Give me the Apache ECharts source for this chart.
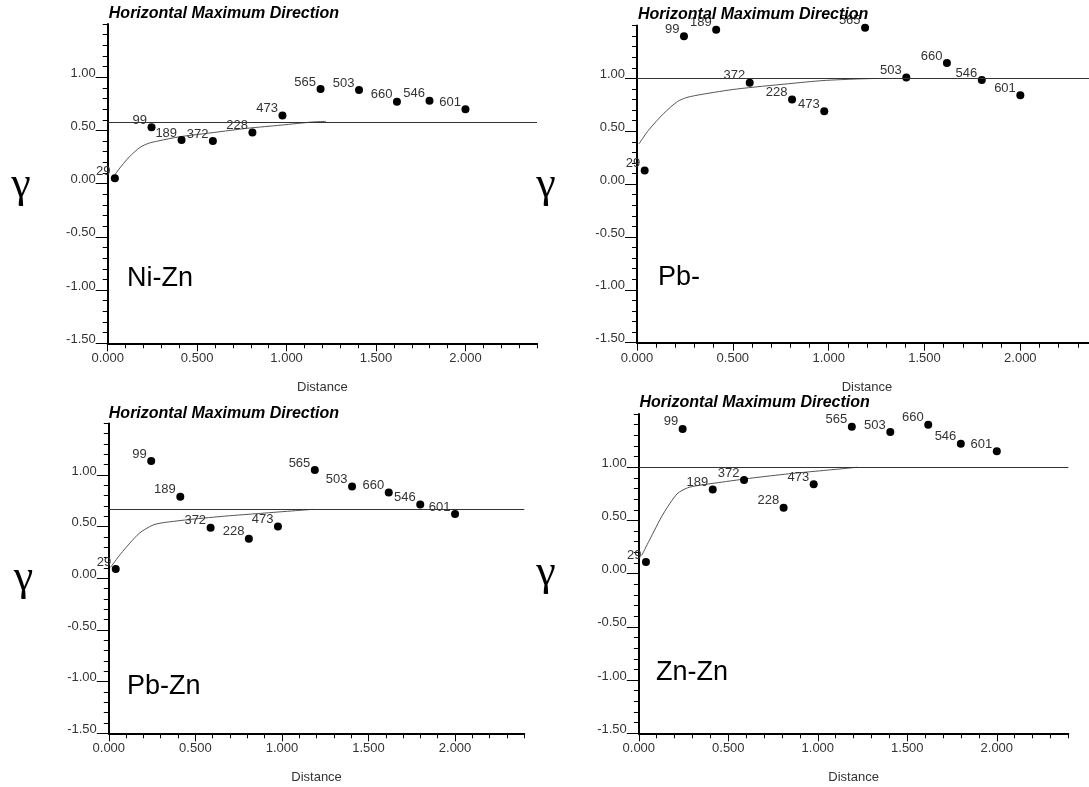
<!DOCTYPE html>
<html><head><meta charset="utf-8">
<script src="https://cdn.jsdelivr.net/npm/echarts@6/dist/echarts.min.js"></script>
<style>html,body{margin:0;padding:0;background:#fff}#c{width:1089px;height:787px}</style>
</head><body><div id="c"></div><script>
// ---- data ----
const panelNames = ['Ni-Zn', 'Pb-', 'Pb-Zn', 'Zn-Zn'];
const chartTitle = 'Horizontal Maximum Direction';
const xAxisName = 'Distance';
const gammaSymbol = 'γ';
const lagDistance = [0.040, 0.245, 0.413, 0.588, 0.809, 0.977, 1.190, 1.405, 1.617, 1.799, 2.000];
const pairCounts = ['29', '99', '189', '372', '228', '473', '565', '503', '660', '546', '601'];
const gammaNiZn = [0.05, 0.53, 0.41, 0.40, 0.48, 0.64, 0.89, 0.88, 0.77, 0.78, 0.70];
const gammaPbPb = [0.13, 1.40, 1.46, 0.96, 0.80, 0.69, 1.48, 1.01, 1.145, 0.985, 0.84];
const gammaPbZn = [0.09, 1.135, 0.79, 0.49, 0.384, 0.503, 1.048, 0.89, 0.832, 0.716, 0.623];
const gammaZnZn = [0.11, 1.36, 0.79, 0.88, 0.62, 0.84, 1.38, 1.33, 1.40, 1.22, 1.15];
const sillValues = [0.585, 1.00, 0.67, 1.00];
const modelNiZnX = [0.02, 0.06, 0.12, 0.18, 0.23, 0.28, 0.40, 0.59, 0.78, 0.97, 1.15, 1.22];
const modelNiZnY = [0.03, 0.13, 0.25, 0.34, 0.38, 0.40, 0.44, 0.48, 0.52, 0.55, 0.58, 0.585];
const modelPbPbX = [0.01, 0.06, 0.14, 0.21, 0.26, 0.34, 0.52, 0.79, 0.97, 1.15, 1.25];
const modelPbPbY = [0.38, 0.51, 0.67, 0.78, 0.82, 0.85, 0.90, 0.95, 0.98, 0.995, 1.00];
const modelPbZnX = [0.01, 0.07, 0.175, 0.255, 0.315, 0.475, 0.676, 0.877, 1.077, 1.18];
const modelPbZnY = [0.106, 0.24, 0.435, 0.516, 0.539, 0.571, 0.603, 0.629, 0.655, 0.668];
const modelZnZnX = [0.016, 0.058, 0.136, 0.214, 0.272, 0.33, 0.447, 0.64, 0.835, 1.03, 1.165, 1.22];
const modelZnZnY = [0.17, 0.31, 0.56, 0.75, 0.806, 0.828, 0.856, 0.90, 0.9375, 0.969, 0.99, 1.00];
const xTickMin = 0, xTickMax = 2.4, yTickMin = -1.5, yTickMax = 1.5;

const gammaSets = [gammaNiZn, gammaPbPb, gammaPbZn, gammaZnZn];
const modelX = [modelNiZnX, modelPbPbX, modelPbZnX, modelZnZnX];
const modelY = [modelNiZnY, modelPbPbY, modelPbZnY, modelZnZnY];

// ---- layout ----
const layouts = [
  {grid:{left:107.7, top:24, width:429.3, height:319.3}, title:[108.8,15], gamma:[21,185], label:[127,279]},
  {grid:{left:637, top:25.6, width:460, height:317.1}, title:[638,16], gamma:[546,185], label:[658,278]},
  {grid:{left:108.8, top:423.4, width:415.5, height:309.9}, title:[108.8,415], gamma:[23.5,578], label:[127,687]},
  {grid:{left:638.8, top:414, width:429.6, height:319.3}, title:[639.5,404], gamma:[546,573], label:[656,673]}
];

const FONT = 'Liberation Sans, Arial, sans-serif';
const grids = [], xAxes = [], yAxes = [], series = [], graphics = [];

layouts.forEach((L, i) => {
  grids.push(Object.assign({outerBoundsMode:'none', containLabel:false}, L.grid));
  // minor x axis
  xAxes.push({type:'value', gridIndex:i, position:'bottom', min:xTickMin, max:xTickMax, interval:0.1,
    axisLine:{show:false, onZero:false}, axisTick:{show:true, length:5, lineStyle:{color:'#000', width:1}},
    axisLabel:{show:false}, splitLine:{show:false}});
  // major x axis
  xAxes.push({type:'value', gridIndex:i, position:'bottom', min:xTickMin, max:xTickMax, interval:0.5,
    name:xAxisName, nameLocation:'middle', nameGap:38,
    nameTextStyle:{fontFamily:FONT, fontSize:13, color:'#333'},
    axisLine:{show:true, onZero:false, lineStyle:{color:'#000', width:2}},
    axisTick:{show:true, length:8, lineStyle:{color:'#000', width:1}},
    axisLabel:{show:true, margin:9, fontFamily:FONT, fontSize:13, color:'#333',
      showMaxLabel:false, formatter:v => v.toFixed(3)}, splitLine:{show:false}});
  // minor y axis
  yAxes.push({type:'value', gridIndex:i, position:'left', min:yTickMin, max:yTickMax, interval:0.1,
    axisLine:{show:false, onZero:false}, axisTick:{show:true, length:5, lineStyle:{color:'#000', width:1}},
    axisLabel:{show:false}, splitLine:{show:false}});
  // major y axis
  yAxes.push({type:'value', gridIndex:i, position:'left', min:yTickMin, max:yTickMax, interval:0.5,
    axisLine:{show:true, onZero:false, lineStyle:{color:'#000', width:2}},
    axisTick:{show:true, length:12, lineStyle:{color:'#000', width:1}},
    axisLabel:{show:true, margin:12, fontFamily:FONT, fontSize:13, color:'#333',
      verticalAlign:'bottom', lineHeight:8, showMaxLabel:false,
      formatter:v => v.toFixed(2)}, splitLine:{show:false}});

  const xi = 2*i+1, yi = 2*i+1;
  series.push({type:'line', xAxisIndex:xi, yAxisIndex:yi, silent:true,
    data: modelX[i].map((x, k) => [x, modelY[i][k]]),
    smooth:0.25, symbol:'none',
    lineStyle:{color:'#555', width:1},
    markLine:{silent:true, symbol:['none','none'], label:{show:false},
      lineStyle:{type:'solid', color:'#333', width:1},
      data:[{yAxis:sillValues[i]}]},
    z:2});
  series.push({type:'scatter', xAxisIndex:xi, yAxisIndex:yi,
    data: lagDistance.map((x, k) => [x, gammaSets[i][k]]),
    symbol:'circle', symbolSize:8, itemStyle:{color:'#000', opacity:1},
    label:{show:true, position:'left', distance:0.5, offset:[0,-7],
      fontFamily:FONT, fontSize:13, color:'#333',
      formatter:p => pairCounts[p.dataIndex]},
    z:3});

  graphics.push({type:'text', left:L.title[0], top:L.title[1]-9, z:10,
    style:{text:chartTitle, font:'italic bold 16px ' + FONT, fill:'#000'}});
  graphics.push({type:'text', x:L.gamma[0], y:L.gamma[1], z:10,
    style:{text:gammaSymbol, font:'44px Liberation Serif, serif', fill:'#000',
      textAlign:'center', textVerticalAlign:'middle'}});
  graphics.push({type:'text', x:L.label[0], y:L.label[1], z:10,
    style:{text:panelNames[i], font:'27px ' + FONT, fill:'#000',
      textAlign:'left', textVerticalAlign:'middle'}});
});

const chart = echarts.init(document.getElementById('c'), null, {renderer:'canvas'});
chart.setOption({
  animation:false,
  backgroundColor:'#fff',
  grid:grids, xAxis:xAxes, yAxis:yAxes, series:series, graphic:graphics
});
</script></body></html>
